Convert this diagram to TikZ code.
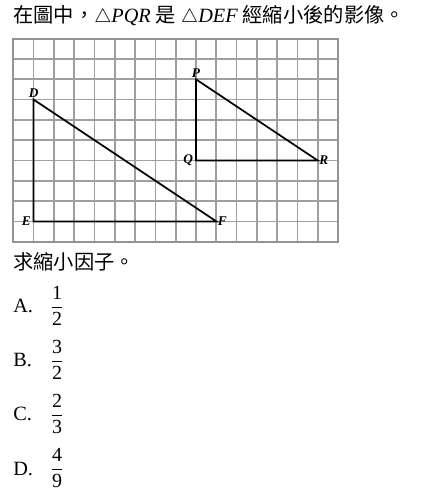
\documentclass[tikz,border=0pt]{standalone}
\usepackage{amsmath}
\usepackage{fontspec}
\setmainfont{Liberation Serif}
\newfontfamily\cjk{Noto Sans CJK TC}
\tikzset{
  gridline/.style={draw=gray!75, line width=1.3pt},
  gridframe/.style={draw=gray!85, line width=1.5pt},
  tri/.style={draw=black, line width=1.3pt},
  vlabel/.style={inner sep=1pt, font=\fontsize{10}{11}\selectfont\bfseries\itshape},
  txt/.style={inner sep=0pt, anchor=base west, font=\fontsize{15.2}{18}\selectfont},
  frac/.style={inner sep=0pt, anchor=base, font=\fontsize{15}{18}\selectfont}
}
\begin{document}
\begin{tikzpicture}[x=0.75pt, y=0.75pt]
  \useasboundingbox (0,0) rectangle (428,501);

  \node[txt] (title) at (13,478)
    {{\cjk 在圖中，}$\triangle \mathit{PQR}$ {\cjk 是} $\triangle \mathit{DEF}$ {\cjk 經縮小後的影像。}};

  \begin{scope}[shift={(13.3,259.3)}, x=15.225pt, y=15.225pt]
    \draw[gridline, step=1] (0,0) grid (16,10);
    \draw[gridframe] (0,0) rectangle (16,10);

    \coordinate (D) at (1,7);
    \coordinate (E) at (1,1);
    \coordinate (F) at (10,1);
    \coordinate (P) at (9,8);
    \coordinate (Q) at (9,4);
    \coordinate (R) at (15,4);

    \draw[tri] (D) -- (E) -- (F) -- cycle;
    \draw[tri] (P) -- (Q) -- (R) -- cycle;

    \node[vlabel, above=0pt] (lD) at (D) {D};
    \node[vlabel, left=1pt] (lE) at (E) {E};
    \node[vlabel, right=0pt] (lF) at (F) {F};
    \node[vlabel, above=0pt] (lP) at (P) {P};
    \node[vlabel, left=1pt] (lQ) at (Q) {Q};
    \node[vlabel, right=0pt] (lR) at (R) {R};
  \end{scope}

  \node[txt] (ask) at (13,231) {\cjk 求縮小因子。};

  % options
  \foreach \lab/\num/\den [count=\i] in {A/1/2, B/3/2, C/2/3, D/4/9} {
    \node[txt] (opt\lab) at (13,501-313-54*\i+54) {\lab.};
    \node[frac] (frac\lab) at (57,501-312-54*\i+54) {$\dfrac{\text{\num}}{\text{\den}}$};
  }
\end{tikzpicture}
\end{document}
